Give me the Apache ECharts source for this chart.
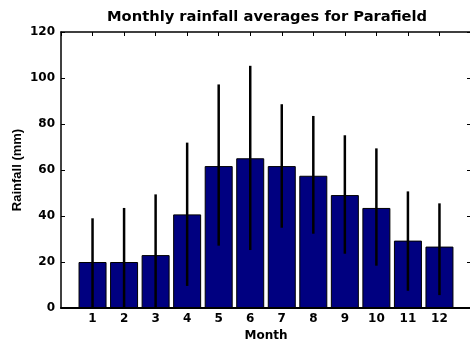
<!DOCTYPE html>
<html>
<head>
<meta charset="utf-8">
<script src="https://cdn.jsdelivr.net/npm/echarts@6/dist/echarts.min.js"></script>
<style>html,body{margin:0;padding:0;background:#fff;overflow:hidden;}#c{width:470px;height:340px;}</style>
</head>
<body>
<div id="c"></div>
<script>
var months = [1, 2, 3, 4, 5, 6, 7, 8, 9, 10, 11, 12];
var meanRain = [20, 20, 23, 40.7, 61.7, 65.1, 61.7, 57.5, 49.1, 43.5, 29.3, 26.7];
var upperRain = [39, 43.5, 49.4, 71.9, 97.2, 105.3, 88.6, 83.5, 75.1, 69.4, 50.7, 45.5];
var lowerRain = [0, 0, 0, 9.6, 27.1, 25.2, 34.9, 32.3, 23.6, 18.4, 7.5, 5.6];
var yTicks = [0, 20, 40, 60, 80, 100, 120];

var WIDE = '"DejaVu Sans", Verdana, sans-serif';
var NARROW = '"Liberation Sans", Arial, Helvetica, sans-serif';
var chart = echarts.init(document.getElementById('c'), null, {renderer: 'canvas'});

var barData = months.map(function (m, i) { return [m, meanRain[i]]; });
var errData = months.map(function (m, i) { return [m, lowerRain[i], upperRain[i]]; });

var option = {
  animation: false,
  backgroundColor: '#ffffff',
  title: {
    text: 'Monthly rainfall averages for Parafield',
    left: 107, top: 10, padding: 0,
    textStyle: {fontFamily: WIDE, fontSize: 14.7, fontWeight: 'bold', color: '#000'}
  },
  grid: {left: 61, right: -1, top: 32, bottom: 32, containLabel: false, outerBoundsMode: 'none'},
  xAxis: [{
    type: 'value', min: 0, max: 13, interval: 1, position: 'bottom',
    name: 'Month', nameLocation: 'middle', nameGap: 14,
    nameTextStyle: {fontFamily: WIDE, fontSize: 12, fontWeight: 'bold', color: '#000'},
    axisLine: {show: true, onZero: false, lineStyle: {color: '#000', width: 2}},
    axisTick: {show: false},
    splitLine: {show: false},
    axisLabel: {
      fontFamily: WIDE, fontSize: 12, fontWeight: 'bold', color: '#000', margin: 5,
      formatter: function (v) { return (v >= 1 && v <= 12) ? String(v) : ''; }
    }
  }, {
    type: 'value', min: 0, max: 13, interval: 1, position: 'top',
    axisLine: {show: true, onZero: false, lineStyle: {color: '#000', width: 1.5}},
    axisTick: {show: true, inside: true, length: 4, lineStyle: {color: '#000', width: 1}},
    axisLabel: {show: false}, splitLine: {show: false}
  }],
  yAxis: [{
    type: 'value', min: 0, max: 120, interval: 20, position: 'left',
    name: 'Rainfall (mm)', nameLocation: 'middle', nameGap: 37, nameMoveOverlap: false,
    nameTextStyle: {fontFamily: NARROW, fontSize: 13, fontWeight: 'bold', color: '#000'},
    axisLine: {show: true, onZero: false, lineStyle: {color: '#000', width: 1.5}},
    axisTick: {show: true, inside: true, length: 4, lineStyle: {color: '#000', width: 1}},
    splitLine: {show: false},
    axisLabel: {
      fontFamily: WIDE, fontSize: 12, fontWeight: 'bold', color: '#000', margin: 6,
      formatter: function (v) { return yTicks.indexOf(v) >= 0 ? String(v) : ''; }
    }
  }, {
    type: 'value', min: 0, max: 120, interval: 20, position: 'right',
    axisLine: {show: true, onZero: false, lineStyle: {color: '#000', width: 1.5}},
    axisTick: {show: true, inside: true, length: 4, lineStyle: {color: '#000', width: 1}},
    axisLabel: {show: false}, splitLine: {show: false}
  }],
  series: [{
    type: 'bar', xAxisIndex: 0, yAxisIndex: 0,
    data: barData, barWidth: 28,
    itemStyle: {color: '#000080', borderColor: '#000000', borderWidth: 1},
    z: 2
  }, {
    type: 'custom', xAxisIndex: 0, yAxisIndex: 0,
    data: errData, z: 5,
    renderItem: function (params, api) {
      var x = api.value(0);
      var lo = api.coord([x, api.value(1)]);
      var hi = api.coord([x, api.value(2)]);
      return {
        type: 'line',
        shape: {x1: lo[0], y1: lo[1], x2: hi[0], y2: hi[1]},
        style: {stroke: '#000', lineWidth: 2.5}
      };
    }
  }]
};
chart.setOption(option);
</script>
</body>
</html>
